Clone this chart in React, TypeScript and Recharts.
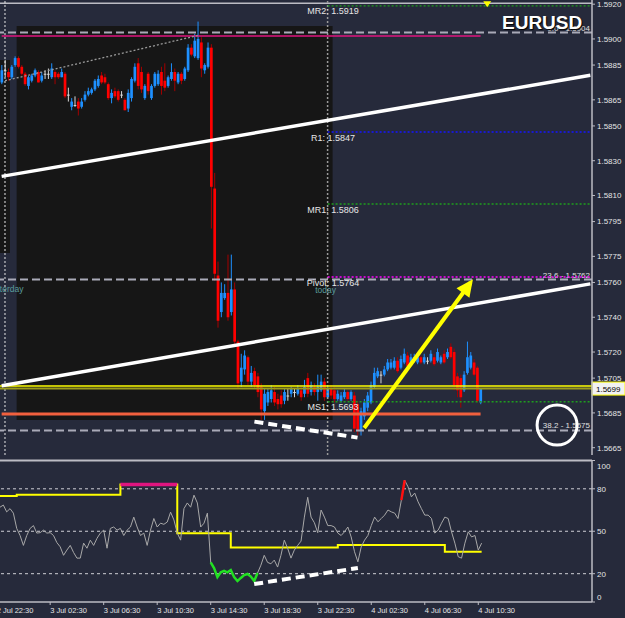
import React from "react";
import {
  ComposedChart,
  Bar,
  Line,
  XAxis,
  YAxis,
  ReferenceLine,
  ReferenceArea,
  ReferenceDot,
} from "recharts";

const FONT = "'Liberation Sans', Arial, sans-serif";
const NAVY = "#262a3b";
const SHADE = "#161616";
const AXIS = "#bcbcc4";
const TEXT = "#e4e4e4";
const TEAL = "#5a9c9c";

// M15 bars, the slots after the last bar are the empty chart shift on the right
const SLOTS = 178;
const TIME_LABELS = [
  "2 Jul 22:30", "3 Jul 02:30", "3 Jul 06:30", "3 Jul 10:30", "3 Jul 14:30",
  "3 Jul 18:30", "3 Jul 22:30", "4 Jul 02:30", "4 Jul 06:30", "4 Jul 10:30",
];
const TIME_AT = [0, 15, 31, 47, 63, 79, 95, 111, 127, 143];

const PRICE_TICKS = [
  1.592, 1.59, 1.5885, 1.5865, 1.585, 1.583, 1.581, 1.5795, 1.5775, 1.576,
  1.574, 1.572, 1.5705, 1.5685, 1.5665,
];
const PRICE_DOMAIN = [1.56608, 1.59224];

// [open, high, low, close]
const CANDLES = [
  [1.5875, 1.5885, 1.5874, 1.5882], [1.5882, 1.5888, 1.5878, 1.5882], [1.5881, 1.5883, 1.5876, 1.5878],
  [1.5878, 1.5885, 1.5877, 1.5884], [1.5885, 1.589, 1.5884, 1.5889], [1.5889, 1.589, 1.5883, 1.5884],
  [1.5884, 1.5885, 1.5879, 1.588], [1.588, 1.5881, 1.5873, 1.5874], [1.5873, 1.5879, 1.5871, 1.5878],
  [1.5876, 1.588, 1.5875, 1.5879], [1.5879, 1.5883, 1.5878, 1.5882], [1.5881, 1.5882, 1.5875, 1.5875],
  [1.5876, 1.5881, 1.5875, 1.5879], [1.588, 1.5882, 1.5877, 1.588], [1.588, 1.5883, 1.5877, 1.588],
  [1.5878, 1.5886, 1.5877, 1.5883], [1.5881, 1.5882, 1.5874, 1.5878], [1.588, 1.5881, 1.5877, 1.5878],
  [1.5878, 1.5883, 1.5878, 1.5881], [1.588, 1.5881, 1.5866, 1.5867], [1.5868, 1.5872, 1.5864, 1.5868],
  [1.5861, 1.5866, 1.5859, 1.5864], [1.5862, 1.5867, 1.5861, 1.5862], [1.5864, 1.5866, 1.5856, 1.586],
  [1.5861, 1.5866, 1.586, 1.5864], [1.5865, 1.587, 1.5864, 1.5868], [1.5868, 1.5872, 1.5867, 1.587],
  [1.5869, 1.5872, 1.5868, 1.5871], [1.5871, 1.5877, 1.587, 1.5876], [1.5873, 1.5879, 1.5872, 1.5877],
  [1.5879, 1.5881, 1.5874, 1.5875], [1.5878, 1.588, 1.5874, 1.5875], [1.5874, 1.5875, 1.5865, 1.5866],
  [1.5866, 1.5871, 1.5863, 1.5869], [1.587, 1.5872, 1.5866, 1.5867], [1.587, 1.5871, 1.5864, 1.5865],
  [1.5868, 1.587, 1.5866, 1.5868], [1.5865, 1.5866, 1.5859, 1.5859], [1.586, 1.5871, 1.5858, 1.5869],
  [1.5866, 1.5878, 1.5864, 1.5877], [1.5876, 1.5886, 1.5875, 1.5884], [1.5886, 1.5889, 1.5871, 1.5873],
  [1.5881, 1.5884, 1.5869, 1.5871], [1.5866, 1.5874, 1.5865, 1.5873], [1.588, 1.5881, 1.5868, 1.587],
  [1.5866, 1.5874, 1.5865, 1.5873], [1.5873, 1.5881, 1.5872, 1.588], [1.5874, 1.5882, 1.5873, 1.588],
  [1.5881, 1.5884, 1.5868, 1.5873], [1.5876, 1.5886, 1.587, 1.5872], [1.5873, 1.5879, 1.5872, 1.5878],
  [1.5877, 1.5886, 1.5876, 1.5881], [1.5881, 1.5883, 1.587, 1.5876], [1.5875, 1.5881, 1.5874, 1.588],
  [1.588, 1.5881, 1.5874, 1.5876], [1.5877, 1.5884, 1.5876, 1.5883], [1.5882, 1.5897, 1.5881, 1.5895],
  [1.5895, 1.5897, 1.589, 1.5891], [1.589, 1.5903, 1.5889, 1.5899], [1.5889, 1.591, 1.5888, 1.59],
  [1.5898, 1.5901, 1.5878, 1.5883], [1.5882, 1.5886, 1.588, 1.5885], [1.5884, 1.5898, 1.5883, 1.5895],
  [1.5895, 1.5897, 1.5791, 1.5815], [1.5814, 1.5823, 1.5761, 1.5765], [1.5764, 1.5772, 1.5734, 1.5738],
  [1.5743, 1.576, 1.574, 1.5754], [1.5751, 1.5759, 1.575, 1.5754], [1.5754, 1.5776, 1.5738, 1.574],
  [1.5743, 1.5776, 1.5741, 1.5756], [1.5756, 1.576, 1.5724, 1.5726], [1.5726, 1.5727, 1.5699, 1.5702],
  [1.5703, 1.5719, 1.57, 1.5711], [1.571, 1.5721, 1.5707, 1.5718], [1.5717, 1.5718, 1.5701, 1.5703],
  [1.5703, 1.5712, 1.57, 1.5708], [1.5709, 1.5711, 1.5699, 1.5701], [1.5706, 1.5708, 1.5694, 1.5697],
  [1.57, 1.5702, 1.5681, 1.5687], [1.5686, 1.5699, 1.5681, 1.5696], [1.5691, 1.5699, 1.5689, 1.5697],
  [1.5693, 1.5701, 1.5691, 1.5698], [1.5697, 1.57, 1.5689, 1.5691], [1.5693, 1.5696, 1.5687, 1.569],
  [1.5695, 1.5698, 1.5688, 1.569], [1.5692, 1.5699, 1.569, 1.5697], [1.5695, 1.5699, 1.5692, 1.5695],
  [1.5696, 1.57, 1.5694, 1.5699], [1.5697, 1.5699, 1.5694, 1.5697], [1.5696, 1.5701, 1.5695, 1.5699],
  [1.5698, 1.57, 1.5692, 1.5694], [1.5696, 1.5704, 1.5694, 1.57], [1.5705, 1.5708, 1.5694, 1.5696],
  [1.5697, 1.5703, 1.5695, 1.5701], [1.57, 1.5702, 1.5695, 1.5697], [1.5697, 1.5707, 1.5692, 1.57],
  [1.5698, 1.5707, 1.5697, 1.5703], [1.5703, 1.5705, 1.5692, 1.5694], [1.5694, 1.57, 1.5693, 1.5699],
  [1.5699, 1.5701, 1.5693, 1.5695], [1.5698, 1.57, 1.5691, 1.5693], [1.5693, 1.5698, 1.5692, 1.5696],
  [1.5692, 1.5697, 1.5691, 1.5695], [1.5694, 1.5699, 1.5693, 1.5697], [1.5697, 1.5698, 1.5692, 1.5693],
  [1.5693, 1.5698, 1.5692, 1.5697], [1.5695, 1.5697, 1.5674, 1.5676], [1.569, 1.5692, 1.5672, 1.5675],
  [1.5675, 1.5688, 1.5672, 1.5686], [1.5683, 1.5693, 1.5681, 1.5691], [1.5688, 1.5697, 1.5686, 1.5695],
  [1.5691, 1.5703, 1.569, 1.5701], [1.57, 1.5711, 1.5699, 1.5708], [1.5706, 1.5711, 1.5705, 1.5709],
  [1.5707, 1.5709, 1.5702, 1.5707], [1.5707, 1.5712, 1.5706, 1.571], [1.571, 1.5716, 1.5709, 1.5714],
  [1.5711, 1.5716, 1.571, 1.5714], [1.5711, 1.5717, 1.571, 1.5715], [1.5715, 1.5717, 1.5708, 1.5709],
  [1.5711, 1.5718, 1.571, 1.5716], [1.5714, 1.5722, 1.5713, 1.5719], [1.5718, 1.572, 1.5711, 1.5712],
  [1.5713, 1.5719, 1.5712, 1.5717], [1.5715, 1.5719, 1.5714, 1.5717], [1.5714, 1.5718, 1.5713, 1.5717],
  [1.5717, 1.5718, 1.5713, 1.5714], [1.5714, 1.5719, 1.5713, 1.5717], [1.5715, 1.5717, 1.5713, 1.5715],
  [1.5715, 1.5721, 1.5714, 1.5719], [1.5717, 1.5719, 1.5712, 1.5713], [1.5715, 1.5722, 1.5714, 1.572],
  [1.5714, 1.5718, 1.5713, 1.5717], [1.5719, 1.5721, 1.5713, 1.5714], [1.5717, 1.5722, 1.5716, 1.572],
  [1.5723, 1.5725, 1.5716, 1.5717], [1.572, 1.5722, 1.5698, 1.5701], [1.5706, 1.5708, 1.5694, 1.5698],
  [1.5705, 1.5707, 1.5688, 1.5694], [1.5698, 1.5709, 1.5697, 1.5707], [1.5708, 1.5726, 1.5707, 1.5717],
  [1.5711, 1.572, 1.571, 1.5718], [1.5714, 1.5716, 1.5706, 1.5707], [1.5711, 1.5712, 1.5691, 1.5692],
  [1.5691, 1.5699, 1.569, 1.5699],
];

// drawn objects on the price window: [bar index] -> price
const CHANNEL_AT = [0, 177];
const CHANNEL_TOP = [1.5821, 1.58791];
const CHANNEL_BOTTOM = [1.57006, 1.57592];
const THIN_AT = [1, 59];
const THIN_VAL = [1.5876, 1.5902];
const SWING_AT = [76, 107];
const SWING_VAL = [1.568, 1.56708];
const ARROW_AT = [109, 141];
const ARROW_VAL = [1.56763, 1.576];

const PIVOT_LEVELS = [1.5919, 1.58465, 1.58051, 1.57631, 1.56914];
const PIVOT_TEXT = ["MR2: 1.5919", "R1: 1.5847", "MR1: 1.5806", "Pivot: 1.5764", "MS1: 1.5693"];
const PIVOT_COLORS = ["#1f9d1f", "#1515ff", "#1f9d1f", "#ff00ff", "#1f9d1f"];
const FIB_LEVELS = [1.59037, 1.57617, 1.56749];
const FIB_TEXT = ["0.0 - 1.5904", "23.6 - 1.5762", "38.2 - 1.5675"];
const TOP_EDGE = 1.59205;
const MAGENTA_LEVEL = 1.59017;
const SALMON_LEVEL = 1.56844;
const YELLOW_LEVEL = 1.57004;
const LAST_PRICE = 1.5699;

const RSI = [
  67, 68.5, 63.7, 66, 62.8, 52, 47, 40, 47, 52,
  54, 48.7, 49, 50.8, 48.7, 49, 47, 42, 39, 33,
  36.7, 40, 35, 31, 31, 41.6, 38, 43.7, 40, 45,
  48.7, 50.8, 38, 52, 53, 50.8, 52, 47, 50.8, 53,
  60, 53, 47, 48.7, 40, 50.8, 59, 53, 55.7, 54.9,
  56.5, 63.5, 58, 48.7, 43.7, 66, 70, 67, 75.5, 70,
  53, 55.7, 62.8, 28, 24, 17.6, 21, 22, 21, 22.6,
  17.6, 14.8, 17, 19, 19.8, 18, 14.8, 20.5, 26, 33,
  28, 27, 29.6, 24.7, 33, 43.7, 38, 31, 36.7, 40,
  43, 60, 74, 60, 56, 49, 65, 60, 54, 54,
  53, 48.7, 47, 49.6, 53, 46, 35.5, 28.4, 39, 43.7,
  47, 54, 60, 56.7, 59, 61.4, 65, 63.7, 62.8, 59,
  72, 86, 81.4, 74.3, 77, 70.8, 66, 61.4, 61.4, 59,
  48.7, 50.8, 55.7, 60, 59, 49.6, 41.6, 32, 31, 41.6,
  49.6, 46, 47, 36.7, 41.6,
];
const RSI_TICKS = [0, 20, 50, 80, 100];
const RSI_LEVELS = [80, 50, 20];
const OVERSOLD_SPAN = [63, 77];
const OVERBOUGHT_SPAN = [120, 121];
const SIGNAL_AT = [0, 5, 36, 53, 69, 101, 133, 144];
const SIGNAL_VAL = [75, 75.8, 83, 48.5, 38.5, 40.2, 35.5, 35.5];
const HOT_AT = [36, 53];
const HOT_VAL = [83, 83];
const DIV_AT = [76, 107];
const DIV_VAL = [12.7, 24];

const at = (idx: number[], vals: number[], i: number) => {
  const k = idx.indexOf(i);
  return k >= 0 ? vals[k] : null;
};

const priceData = Array.from({ length: SLOTS }, (_, i) => {
  const c = CANDLES[i];
  return {
    i,
    ohlc: c || null,
    range: c ? [c[2], c[1]] : null,
    chanTop: at(CHANNEL_AT, CHANNEL_TOP, i),
    chanBot: at(CHANNEL_AT, CHANNEL_BOTTOM, i),
    thin: at(THIN_AT, THIN_VAL, i),
    swing: at(SWING_AT, SWING_VAL, i),
    arrow: at(ARROW_AT, ARROW_VAL, i),
  };
});

const inSpan = (span: number[], i: number) => i >= span[0] && i <= span[1];

const rsiData = Array.from({ length: SLOTS }, (_, i) => ({
  i,
  rsi: i < RSI.length ? RSI[i] : null,
  low: inSpan(OVERSOLD_SPAN, i) ? RSI[i] : null,
  high: inSpan(OVERBOUGHT_SPAN, i) ? RSI[i] : null,
  signal: at(SIGNAL_AT, SIGNAL_VAL, i),
  hot: at(HOT_AT, HOT_VAL, i),
  div: at(DIV_AT, DIV_VAL, i),
}));

function Candle(props: any) {
  const { x, y, width, height, payload } = props;
  if (!payload || !payload.ohlc) return <g />;
  const [o, h, l, c] = payload.ohlc;
  const k = height / (h - l);
  const cx = x + width / 2;
  const top = y + (h - Math.max(o, c)) * k;
  const bot = y + (h - Math.min(o, c)) * k;
  const body = c > o ? "#1e90ff" : c < o ? "#ff0000" : "#d8d8d8";
  const wick = c > o ? "#1e90ff" : c < o ? "#a40000" : "#d8d8d8";
  return (
    <g>
      <line x1={cx} x2={cx} y1={y} y2={y + height} stroke={wick} strokeWidth={1} />
      <rect x={cx - 1.35} y={top} width={2.7} height={Math.max(bot - top, 1)} fill={body} />
    </g>
  );
}

let arrowTail: { x: number; y: number } | null = null;
function ArrowHead(p: any) {
  const key = `ah-${p.index}`;
  if (p.cx == null || p.cy == null || p.value == null) return <g key={key} />;
  if (p.index === ARROW_AT[0]) {
    arrowTail = { x: p.cx, y: p.cy };
    return <g key={key} />;
  }
  if (!arrowTail) return <g key={key} />;
  const a = Math.atan2(p.cy - arrowTail.y, p.cx - arrowTail.x);
  const tx = p.cx + Math.cos(a) * 4;
  const ty = p.cy + Math.sin(a) * 4;
  const bx = tx - Math.cos(a) * 17;
  const by = ty - Math.sin(a) * 17;
  const pts = [
    [tx, ty],
    [bx - Math.sin(a) * 8, by + Math.cos(a) * 8],
    [bx + Math.sin(a) * 8, by - Math.cos(a) * 8],
  ];
  return <polygon key={key} points={pts.map((q) => q.join(",")).join(" ")} fill="#ffff00" />;
}

const pivotLabel = (k: number) => (p: any) => {
  const vb = p.viewBox;
  return (
    <g fontFamily={FONT}>
      <text x={vb.x + 5.5} y={vb.y + 8.5} textAnchor="middle" fontSize={9} fill="#e6e6e6">
        {PIVOT_TEXT[k]}
      </text>
      {k === 3 && (
        <text x={vb.x - 2} y={vb.y + 16} textAnchor="middle" fontSize={8.5} fill={TEAL}>
          today
        </text>
      )}
    </g>
  );
};

const fibLabel = (k: number) => (p: any) => {
  const vb = p.viewBox;
  return (
    <g fontFamily={FONT}>
      <text x={vb.x + vb.width - 2} y={vb.y - 2} textAnchor="end" fontSize={8} fill="#e0e0e0">
        {FIB_TEXT[k]}
      </text>
      {k === 1 && (
        <text x={vb.x + 5} y={vb.y + 12.5} textAnchor="middle" fontSize={8.5} fill={TEAL}>
          yesterday
        </text>
      )}
    </g>
  );
};

const priceBox = (p: any) => {
  const vb = p.viewBox;
  const x = vb.x + vb.width;
  return (
    <g fontFamily={FONT}>
      <rect x={x} y={vb.y - 6.5} width={33} height={13} fill="#f2f2f2" stroke="#ffff00" strokeWidth={1} />
      <text x={x + 4} y={vb.y + 3} fontSize={8} fill="#000">
        {LAST_PRICE.toFixed(4)}
      </text>
    </g>
  );
};

function TimeTick(p: any) {
  const k = TIME_AT.indexOf(p.payload.value);
  if (k < 0) return <g />;
  // the first label belongs to the bar just left of the window
  const x = p.x - (k === 0 ? 3.3 : 0);
  return (
    <g>
      <line x1={x} x2={x} y1={p.y - 3} y2={p.y} stroke={AXIS} />
      <text x={x} y={p.y + 8} fontSize={7.5} fill={TEXT} fontFamily={FONT}>
        {TIME_LABELS[k]}
      </text>
    </g>
  );
}

function RsiTick(p: any) {
  const v = p.payload.value;
  const shift = v === 100 ? 5.5 : v === 0 ? -5 : 0;
  return (
    <text x={p.x} y={p.y + shift} dy="0.355em" fontSize={8} fill={TEXT} fontFamily={FONT}>
      {v}
    </text>
  );
}

export default function App() {
  return (
    <div style={{ position: "relative", width: 625, height: 618, background: NAVY, overflow: "hidden" }}>
      <style>{"body{margin:0;background:#262a3b}"}</style>
      <div style={{ position: "absolute", left: 0, top: 0 }}>
        <ComposedChart width={625} height={457} data={priceData} margin={{ top: 0, right: 0, bottom: 2, left: 0 }}>
          <XAxis dataKey="i" hide />
          <YAxis
            orientation="right"
            width={33}
            domain={PRICE_DOMAIN}
            allowDataOverflow
            ticks={PRICE_TICKS}
            interval={0}
            tickFormatter={(v: number) => v.toFixed(4)}
            tick={{ fill: TEXT, fontSize: 8, fontFamily: FONT }}
            tickSize={3}
            tickMargin={2}
            tickLine={{ stroke: AXIS }}
            axisLine={{ stroke: AXIS, strokeWidth: 1.5 }}
          />
          <ReferenceArea x1={0} x2={2} y1={1.57769} y2={1.58879} fill={SHADE} fillOpacity={1} stroke="none" />
          <ReferenceArea x1={5} x2={99} y1={1.56809} y2={1.59074} fill={SHADE} fillOpacity={1} stroke="none" />
          <ReferenceArea x1={102} x2={177} y1={1.56734} y2={1.57263} fill={SHADE} fillOpacity={1} stroke="none" />

          <ReferenceLine y={TOP_EDGE} stroke={AXIS} strokeWidth={1.5} />
          <ReferenceLine x={1} stroke="#e8e8e8" strokeDasharray="2 2" />
          <ReferenceLine x={98} stroke="#9a9a9a" strokeWidth={1.5} strokeDasharray="2 2" />
          {FIB_LEVELS.map((v, k) => (
            <ReferenceLine key={`fib${k}`} y={v} stroke="#a9aab8" strokeWidth={2} strokeDasharray="8 4" label={fibLabel(k)} />
          ))}
          {PIVOT_LEVELS.map((v, k) => (
            <ReferenceLine
              key={`piv${k}`}
              segment={[{ x: 98, y: v }, { x: 177, y: v }]}
              stroke={PIVOT_COLORS[k]}
              strokeWidth={1.4}
              strokeDasharray="2 2"
              label={pivotLabel(k)}
            />
          ))}
          <ReferenceLine segment={[{ x: 0, y: MAGENTA_LEVEL }, { x: 144, y: MAGENTA_LEVEL }]} stroke="#e0157f" strokeWidth={1.5} />
          <ReferenceLine y={YELLOW_LEVEL} stroke="#ffff00" strokeWidth={1.5} />
          <ReferenceLine y={LAST_PRICE} stroke="#9c9c1c" strokeWidth={2} label={priceBox} />
          <ReferenceLine segment={[{ x: 0, y: SALMON_LEVEL }, { x: 144, y: SALMON_LEVEL }]} stroke="#f2603e" strokeWidth={3} />

          <Bar dataKey={(d: any) => d.range} shape={Candle} isAnimationActive={false} />

          <Line dataKey="thin" stroke="#9a9a9a" strokeWidth={1.3} strokeDasharray="2 2" dot={false} activeDot={false} connectNulls isAnimationActive={false} />
          <Line dataKey="chanTop" stroke="#ffffff" strokeWidth={3.5} dot={false} activeDot={false} connectNulls isAnimationActive={false} />
          <Line dataKey="chanBot" stroke="#ffffff" strokeWidth={3.5} dot={false} activeDot={false} connectNulls isAnimationActive={false} />
          <Line dataKey="swing" stroke="#ffffff" strokeWidth={4} strokeDasharray="9 5" dot={false} activeDot={false} connectNulls isAnimationActive={false} />
          <Line dataKey="arrow" stroke="#ffff00" strokeWidth={4} dot={ArrowHead} activeDot={false} connectNulls isAnimationActive={false} />

          <ReferenceDot x={167} y={1.5678} r={20} fill="none" stroke="#ffffff" strokeWidth={3} />
          <ReferenceDot
            x={146}
            y={1.592}
            r={4}
            shape={(p: any) => (
              <polygon points={`${p.cx - 4},${p.cy - 3} ${p.cx + 4},${p.cy - 3} ${p.cx},${p.cy + 3}`} fill="#ffff00" />
            )}
          />
        </ComposedChart>
      </div>

      <div style={{ position: "absolute", left: 0, top: 457 }}>
        <ComposedChart width={625} height={161} data={rsiData} margin={{ top: 3.5, right: 0, bottom: 0, left: 0 }}>
          <XAxis
            dataKey="i"
            interval={0}
            height={16}
            tickLine={false}
            tickSize={3}
            tickMargin={0}
            tick={TimeTick}
            axisLine={{ stroke: AXIS, strokeWidth: 1.5 }}
          />
          <YAxis
            orientation="right"
            width={33}
            domain={[0, 100]}
            ticks={RSI_TICKS}
            interval={0}
            tick={RsiTick}
            tickSize={3}
            tickMargin={2}
            tickLine={{ stroke: AXIS }}
            axisLine={{ stroke: AXIS, strokeWidth: 1.5 }}
          />
          <ReferenceLine y={100} stroke={AXIS} strokeWidth={2} />
          {RSI_LEVELS.map((v) => (
            <ReferenceLine key={`lv${v}`} y={v} stroke="#cfcfd6" strokeDasharray="3 3" />
          ))}
          <Line dataKey="signal" type="stepAfter" stroke="#ffff00" strokeWidth={2} dot={false} activeDot={false} connectNulls isAnimationActive={false} />
          <Line dataKey="hot" type="stepAfter" stroke="#e0157f" strokeWidth={3.5} dot={false} activeDot={false} connectNulls isAnimationActive={false} />
          <Line dataKey="rsi" stroke="#a8a8a8" strokeWidth={1} dot={false} activeDot={false} isAnimationActive={false} />
          <Line dataKey="low" stroke="#22e022" strokeWidth={2.5} dot={false} activeDot={false} isAnimationActive={false} />
          <Line dataKey="high" stroke="#ff1010" strokeWidth={2.5} dot={false} activeDot={false} isAnimationActive={false} />
          <Line dataKey="div" stroke="#ffffff" strokeWidth={4} strokeDasharray="9 5" dot={false} activeDot={false} connectNulls isAnimationActive={false} />
        </ComposedChart>
      </div>

      <div
        style={{
          position: "absolute",
          left: 502,
          top: 12,
          color: "#ffffff",
          fontFamily: FONT,
          fontWeight: 700,
          fontSize: 19,
          lineHeight: "22px",
          textShadow: "1px 1px 1px #000",
        }}
      >
        EURUSD
      </div>
    </div>
  );
}
